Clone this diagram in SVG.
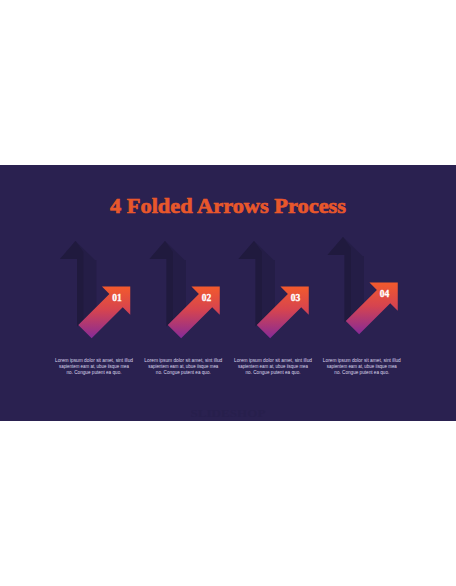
<svg xmlns="http://www.w3.org/2000/svg" width="456" height="586" viewBox="0 0 456 586">
  <defs>
    <linearGradient id="grad" x1="0" y1="0" x2="0" y2="1">
      <stop offset="0" stop-color="#f35a2c"/>
      <stop offset="0.45" stop-color="#d6444f"/>
      <stop offset="1" stop-color="#862a98"/>
    </linearGradient>
    <g id="arrow">
      <polygon class="shadow-light" points="75.5,241 60,259 77,259 77,326.3 96.5,306.8 96.5,260 95,260"/>
      <polygon class="shadow-dark" points="75.5,241 60,259 77,259 77,326.3 83.5,319.8 83.5,252"/>
      <polygon fill="url(#grad)" points="78.3,325 109.4,293.9 101.95,286.45 130.25,286.45 130.25,314.75 122.75,307.25 91.65,338.35"/>
    </g>
  </defs>
  <style>
    .shadow-light { fill: #241d46; }
    .shadow-dark { fill: #201a3e; }
    .num { font-family: "Liberation Serif", "DejaVu Serif", serif; font-weight: bold; font-size: 9.5px; fill: #ffffff; stroke: #ffffff; stroke-width: 0.3; text-anchor: middle; }
    .body { font-family: "Liberation Sans", Arial, sans-serif; font-size: 4.7px; fill: #dcd6ec; text-anchor: middle; }
    .title { font-family: "Liberation Serif", "DejaVu Serif", serif; font-weight: bold; font-size: 22px; fill: #e8572b; stroke: #e8572b; stroke-width: 0.7; text-anchor: middle; }
  </style>
  <rect x="0" y="0" width="456" height="586" fill="#ffffff"/>
  <rect x="0" y="165" width="456" height="256" fill="#2a2150"/>

  <g id="title">
    <text class="title" x="228" y="213" textLength="236" lengthAdjust="spacingAndGlyphs">4 Folded Arrows Process</text>
  </g>

  <g id="step1">
    <use href="#arrow"/>
    <text class="num" x="117" y="301">01</text>
    <text class="body" x="94" y="361.5" textLength="78" lengthAdjust="spacingAndGlyphs">Lorem ipsum dolor sit amet, sint illud</text>
    <text class="body" x="94" y="367.5" textLength="70" lengthAdjust="spacingAndGlyphs">sapientem eam at, ubue iisque mea</text>
    <text class="body" x="94" y="373.5" textLength="55" lengthAdjust="spacingAndGlyphs">no. Congue putent ea quo.</text>
  </g>
  <g id="step2">
    <use href="#arrow" transform="translate(89.5,0)"/>
    <text class="num" x="206.5" y="301">02</text>
    <text class="body" x="183.3" y="361.5" textLength="78" lengthAdjust="spacingAndGlyphs">Lorem ipsum dolor sit amet, sint illud</text>
    <text class="body" x="183.3" y="367.5" textLength="70" lengthAdjust="spacingAndGlyphs">sapientem eam at, ubue iisque mea</text>
    <text class="body" x="183.3" y="373.5" textLength="55" lengthAdjust="spacingAndGlyphs">no. Congue putent ea quo.</text>
  </g>
  <g id="step3">
    <use href="#arrow" transform="translate(178.5,0)"/>
    <text class="num" x="295.5" y="301">03</text>
    <text class="body" x="273" y="361.5" textLength="78" lengthAdjust="spacingAndGlyphs">Lorem ipsum dolor sit amet, sint illud</text>
    <text class="body" x="273" y="367.5" textLength="70" lengthAdjust="spacingAndGlyphs">sapientem eam at, ubue iisque mea</text>
    <text class="body" x="273" y="373.5" textLength="55" lengthAdjust="spacingAndGlyphs">no. Congue putent ea quo.</text>
  </g>
  <g id="step4">
    <use href="#arrow" transform="translate(267.5,-4)"/>
    <text class="num" x="384.5" y="297">04</text>
    <text class="body" x="361.8" y="361.5" textLength="78" lengthAdjust="spacingAndGlyphs">Lorem ipsum dolor sit amet, sint illud</text>
    <text class="body" x="361.8" y="367.5" textLength="70" lengthAdjust="spacingAndGlyphs">sapientem eam at, ubue iisque mea</text>
    <text class="body" x="361.8" y="373.5" textLength="55" lengthAdjust="spacingAndGlyphs">no. Congue putent ea quo.</text>
  </g>

  <g id="watermark">
    <text x="228" y="417" font-family="Liberation Serif, serif" font-weight="bold" font-size="11px" fill="#271f4c" text-anchor="middle" textLength="75" lengthAdjust="spacingAndGlyphs">SLIDESHOP</text>
  </g>
</svg>
